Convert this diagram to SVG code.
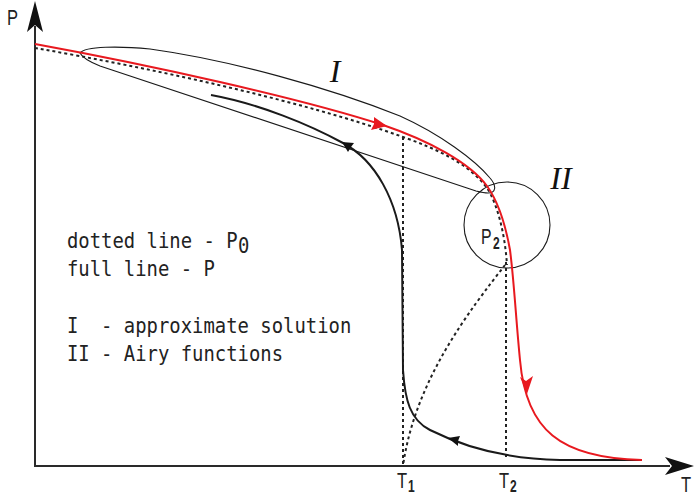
<svg xmlns="http://www.w3.org/2000/svg" width="694" height="496" viewBox="0 0 694 496">
<style>
.axis{stroke:#2a2a2a;stroke-width:2;fill:none}
.dot{stroke:#222;stroke-width:2;stroke-dasharray:3 3;fill:none}
.red{stroke:#e8191f;stroke-width:2;fill:none}
.full{stroke:#1a1a1a;stroke-width:2;fill:none}
.thin{stroke:#1a1a1a;stroke-width:1.1;fill:none}
.lbl{font-family:"Liberation Sans",Arial,sans-serif;font-size:22px;fill:#222}
.sub{font-family:"Liberation Sans",Arial,sans-serif;font-size:16px;fill:#222;font-weight:bold}
.leg{font-family:"DejaVu Sans Mono","Liberation Mono",monospace;font-size:21px;fill:#222}
.rom{font-family:"Liberation Serif","Times New Roman",serif;font-style:italic;font-size:32px;fill:#111}
</style>
<g id="axes">
<line class="axis" x1="35" y1="467" x2="35" y2="26"/>
<line class="axis" x1="34" y1="466" x2="670" y2="466"/>
<polygon points="35,1 43,32 35,25 27,32" fill="#111"/>
<polygon points="694,466 665,475 672,466 665,457" fill="#111"/>
</g>
<g id="axis-labels">
<text class="lbl" transform="translate(7,25) scale(0.75,1)">P</text>
<text class="lbl" transform="translate(681,492) scale(0.75,1)">T</text>
<g id="T1">
<text class="lbl" transform="translate(397,488) scale(0.75,1)">T</text>
<text class="sub" transform="translate(408,492) scale(0.75,1)">1</text>
</g>
<g id="T2">
<text class="lbl" transform="translate(499,488) scale(0.75,1)">T</text>
<text class="sub" transform="translate(510,492) scale(0.75,1)">2</text>
</g>
</g>
<g id="region-I">
<path class="thin" d="M80,53 C85,46 120,46 150,49 C230,60 330,88 400,116 C440,134 475,160 490,178 C497,186 496,193 488,193 C484,193 480,192 476,191 L100,66 C90,62 82,57 80,53 Z"/>
<text class="rom" x="335" y="82" text-anchor="middle">I</text>
</g>
<g id="region-II">
<circle class="thin" cx="507" cy="225" r="43"/>
<text class="rom" x="561" y="189" text-anchor="middle">II</text>
</g>
<g id="P2">
<text class="lbl" transform="translate(481,244) scale(0.72,1)">P</text>
<text class="sub" transform="translate(493,249) scale(0.75,1)">2</text>
</g>
<g id="connectors">
<path class="dot" d="M35,48 C150,68 300,100 403,137 C440,150 470,165 487,188 C498,205 505,235 507,265"/>
<path class="dot" d="M403,137 L403,466"/>
<path class="dot" d="M506,262 L506,457"/>
<path class="dot" d="M505,265 C470,310 415,380 403,466"/>
<path class="full" d="M211,95 C260,104 310,125 343,143 C375,160 398,200 402,250 L403,370 C405,400 410,420 430,430 C460,445 500,459 560,460 L642,460"/>
<polygon points="342,142 354,143 351,147 348,152" fill="#111"/>
<polygon points="448,438 460,436 458,441 458,446" fill="#111"/>
<path class="red" d="M35,44 C150,65 300,98 383,125 C430,141 470,163 487,186 C497,200 505,222 510,250 C514,280 516,320 520,360 C526,430 560,458 642,460"/>
<polygon points="387,126 371,130 374,124 374,117" fill="#e8191f"/>
<polygon points="527,394 520,377 526,381 533,376" fill="#e8191f"/>
</g>
<g id="legend" transform="translate(67,0) scale(0.9,1)">
<text class="leg" x="0" y="248">dotted line - P</text>
<text class="leg" x="190" y="253" font-size="12">0</text>
<text class="leg" x="0" y="276">full line - P</text>
<text class="leg" x="0" y="333" xml:space="preserve">I  - approximate solution</text>
<text class="leg" x="0" y="361">II - Airy functions</text>
</g>
</svg>
